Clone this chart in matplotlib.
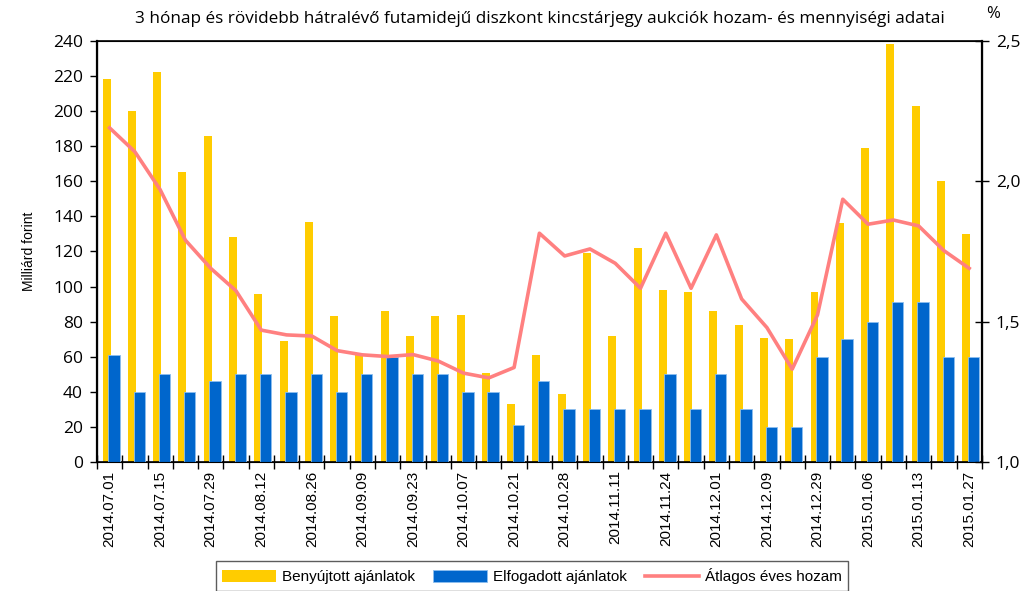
import numpy as np
import matplotlib.pyplot as plt
from matplotlib.ticker import FuncFormatter, MultipleLocator

dates = ["2014.07.01", "2014.07.15", "2014.07.29", "2014.08.12", "2014.08.26",
         "2014.09.09", "2014.09.23", "2014.10.07", "2014.10.21", "2014.10.28",
         "2014.11.11", "2014.11.24", "2014.12.01", "2014.12.09", "2014.12.29",
         "2015.01.06", "2015.01.13", "2015.01.27"]

# benyujtott (submitted) bids, billion HUF
submitted = [218, 200, 222, 165, 186, 128, 96, 69, 137, 83, 61, 86, 72, 83, 84,
             51, 33, 61, 39, 119, 72, 122, 98, 97, 86, 78, 71, 70, 97, 136,
             179, 238, 203, 160, 130]
# elfogadott (accepted) bids, billion HUF
accepted = [61, 40, 50, 40, 46, 50, 50, 40, 50, 40, 50, 60, 50, 50, 40,
            40, 21, 46, 30, 30, 30, 30, 50, 30, 50, 30, 20, 20, 60, 70,
            80, 91, 91, 60, 60]
# average yield, %
yields = [2.19, 2.105, 1.97, 1.79, 1.69, 1.61, 1.47, 1.453, 1.449, 1.397, 1.382,
          1.376, 1.383, 1.36, 1.317, 1.30, 1.337, 1.815, 1.734, 1.759, 1.708,
          1.619, 1.815, 1.619, 1.809, 1.581, 1.479, 1.331, 1.524, 1.936, 1.847,
          1.862, 1.841, 1.753, 1.69]

yellow = "#FFCC00"
blue = "#0066CC"
red = "#FF8080"

x = np.arange(len(submitted))

fig = plt.figure(figsize=(10.27, 5.91), dpi=100)
ax = fig.add_axes([0.0944, 0.218, 0.8616, 0.713])

b1 = ax.bar(x - 0.118, submitted, width=0.315, color=yellow, zorder=2)
b2 = ax.bar(x + 0.172, accepted, width=0.45, color=blue, edgecolor="#8DBFEF",
            linewidth=0.6, zorder=3)

ax.set_xlim(-0.5, len(x) - 0.5)
ax.set_ylim(0, 240)
ax.yaxis.set_major_locator(MultipleLocator(20))
ax.set_ylabel("Milliárd forint", fontsize=10, family="Liberation Sans", labelpad=12)
ax.tick_params(axis="y", direction="out", length=5, width=1, labelsize=12.5, pad=5)
for lab in ax.get_yticklabels():
    lab.set_family("Open Sans")

ax.set_xticks(x[::2])
ax.set_xticklabels(dates, rotation=90, fontsize=11, family="Liberation Sans")
ax.set_xticks(np.arange(len(x) + 1) - 0.5, minor=True)
ax.tick_params(axis="x", which="major", length=0, pad=6)
ax.tick_params(axis="x", which="minor", direction="inout", length=10, width=1)

for s in ax.spines.values():
    s.set_color("black")
ax.spines["left"].set_linewidth(1.6)
ax.spines["top"].set_linewidth(1.2)
ax.spines["bottom"].set_linewidth(1.2)

ax2 = ax.twinx()
l1, = ax2.plot(x, yields, color=red, linewidth=2.6, zorder=4)
ax2.set_ylim(1.0, 2.5)
ax2.yaxis.set_major_locator(MultipleLocator(0.5))
ax2.yaxis.set_major_formatter(FuncFormatter(lambda v, p: f"{v:.1f}".replace(".", ",")))
ax2.tick_params(axis="y", direction="inout", length=10, width=1, labelsize=12.5, pad=5)
for lab in ax2.get_yticklabels():
    lab.set_family("Open Sans")
ax2.spines["right"].set_linewidth(1.6)
ax2.spines["right"].set_color("black")

fig.text(0.5253, 0.968, "3 hónap és rövidebb hátralévő futamidejű diszkont kincstárjegy "
         "aukciók hozam- és mennyiségi adatai", ha="center", va="center",
         fontsize=12.3, family="Open Sans")
fig.text(0.967, 0.976, "%", ha="center", va="center", fontsize=12, family="Open Sans")

leg = fig.legend([b1, b2, l1],
                 ["Benyújtott ajánlatok", "Elfogadott ajánlatok", "Átlagos éves hozam"],
                 loc="upper center", bbox_to_anchor=(0.518, 0.05), ncol=3,
                 frameon=True, fancybox=False, edgecolor="#333333",
                 prop={"family": "Liberation Sans", "size": 11},
                 handlelength=3.5, handleheight=0.9, columnspacing=1.2,
                 handletextpad=0.4, borderpad=0.45, borderaxespad=0)
leg.get_frame().set_linewidth(1.0)

fig.savefig("out.png", dpi=100)
